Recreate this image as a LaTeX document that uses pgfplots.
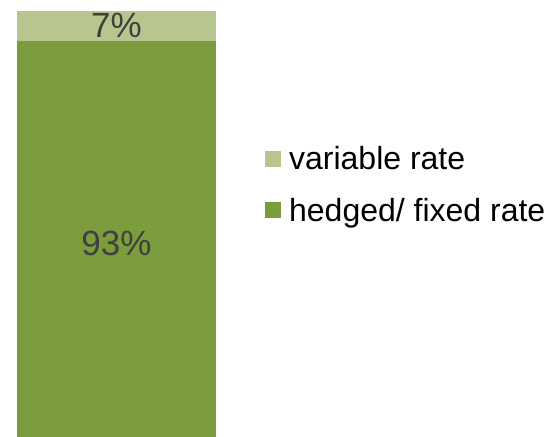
\documentclass[border=0pt]{standalone}
\usepackage{pgfplots}
\pgfplotsset{compat=1.18}
\usepackage{fontspec}
\setmainfont{Liberation Sans}
\definecolor{lightg}{RGB}{183,198,142}
\definecolor{darkg}{RGB}{123,157,61}
\definecolor{labgray}{RGB}{64,64,64}
\begin{document}
\begin{tikzpicture}[x=1bp,y=1bp]
\useasboundingbox (0,0) rectangle (548,437);
\begin{axis}[
  at={(17bp,0bp)}, anchor=south west,
  scale only axis, width=199bp, height=426bp,
  xmin=-0.5, xmax=0.5, ymin=0, ymax=100,
  ybar stacked, bar width=199bp,
  hide axis,
  reverse legend,
  legend style={at={(1.231,0.593)}, anchor=west, draw=none, fill=none,
    font=\fontsize{32bp}{36bp}\selectfont, row sep=23bp, cells={anchor=west},
    /tikz/every odd column/.append style={column sep=6bp}},
  legend image code/.code={\fill[#1] (0bp,-8bp) rectangle (16bp,8bp);},
]
\addplot[fill=darkg, draw=none, nodes near coords={93\%},
  every node near coord/.append style={anchor=center, yshift=-5bp,
    text=labgray, font=\fontsize{35bp}{40bp}\selectfont}] coordinates {(0,93)};
\addlegendentry{hedged/ fixed rate}
\addplot[fill=lightg, draw=none, nodes near coords={7\%},
  every node near coord/.append style={anchor=center, yshift=0bp,
    text=labgray, font=\fontsize{35bp}{40bp}\selectfont}] coordinates {(0,7)};
\addlegendentry{variable rate}
\end{axis}
\end{tikzpicture}
\end{document}
